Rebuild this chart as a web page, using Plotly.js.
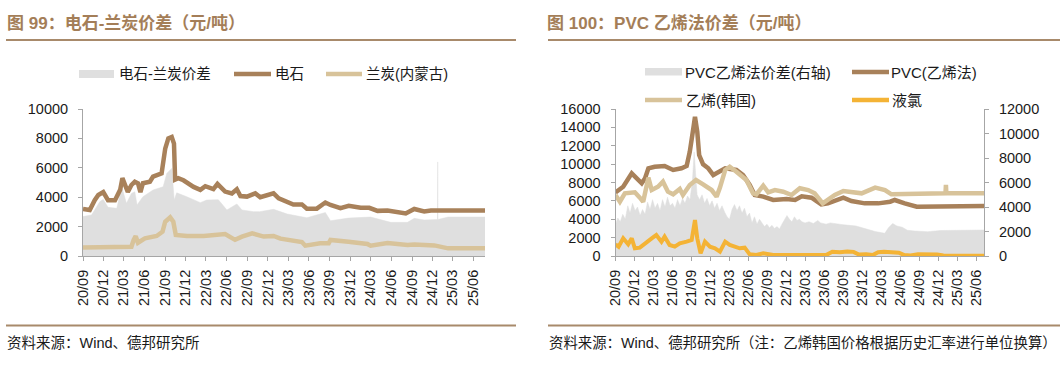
<!DOCTYPE html>
<html><head><meta charset="utf-8">
<script src="https://cdn.plot.ly/plotly-3.0.1.min.js"></script>
<style>html,body{margin:0;padding:0;background:#fff;}#chart{width:1063px;height:367px;}</style>
</head><body><div id="chart"></div>
<script>
// ---------- tick labels ----------
const tickLabels = ['20/09','20/12','21/03','21/06','21/09','21/12','22/03','22/06','22/09','22/12',
  '23/03','23/06','23/09','23/12','24/03','24/06','24/09','24/12','25/03','25/06'];

// ---------- left chart: 电石 / 兰炭 ----------
const carbideDates = ['2020-09-01','2020-10-01','2020-10-23','2020-11-08','2020-11-30','2020-12-21','2021-01-21','2021-02-13','2021-02-23','2021-03-05','2021-03-19','2021-04-04','2021-04-19','2021-05-03','2021-05-14','2021-05-25','2021-06-25','2021-07-09','2021-07-31','2021-08-16','2021-09-01','2021-09-15','2021-09-30','2021-10-10','2021-10-15','2021-10-29','2021-11-21','2022-01-05','2022-02-04','2022-02-26','2022-04-03','2022-04-21','2022-05-25','2022-06-24','2022-07-16','2022-08-01','2022-08-30','2022-10-06','2022-10-28','2022-11-27','2022-12-26','2023-01-18','2023-02-25','2023-03-24','2023-05-01','2023-05-23','2023-07-06','2023-08-13','2023-09-05','2023-10-19','2023-11-25','2024-01-17','2024-02-24','2024-04-01','2024-05-15','2024-06-13','2024-08-04','2024-09-11','2024-10-25','2024-11-24','2025-07-22'];
const carbideVals = [3200,3130,3800,4150,4350,3800,3800,4500,5300,4830,4350,4830,5050,4950,4350,4950,5050,5400,5500,5620,7300,8000,8100,7650,5200,5300,5150,4700,4500,4750,4550,4900,4380,4250,4540,4080,4040,4265,4000,4150,4265,3925,3630,3500,3510,3220,3220,3640,3470,3250,3410,3280,3280,3070,3100,3000,2890,3200,3030,3100,3100];

const semiDates = ['2020-09-01','2020-12-29','2021-04-04','2021-04-14','2021-04-23','2021-05-03','2021-06-03','2021-07-25','2021-08-20','2021-09-01','2021-09-23','2021-10-07','2021-10-18','2021-12-06','2022-02-19','2022-05-25','2022-07-08','2022-08-08','2022-09-22','2022-11-12','2022-12-26','2023-01-26','2023-03-10','2023-05-01','2023-05-16','2023-07-21','2023-08-28','2023-09-05','2023-11-24','2024-02-16','2024-03-01','2024-05-15','2024-08-12','2024-09-11','2024-12-09','2025-02-08','2025-07-22'];
const semiVals = [570,630,630,1090,1350,900,1200,1360,1650,2330,2630,2330,1430,1360,1360,1500,1100,1320,1540,1320,1360,1180,1090,950,700,860,860,1090,975,815,700,880,750,790,720,520,520];

const spreadDates = ['2020-09-01','2020-10-09','2020-11-15','2020-11-30','2020-12-21','2021-01-29','2021-02-20','2021-03-13','2021-04-04','2021-04-19','2021-04-29','2021-05-25','2021-07-09','2021-08-23','2021-09-08','2021-09-30','2021-10-11','2021-10-22','2021-12-06','2022-02-04','2022-03-04','2022-04-25','2022-06-02','2022-07-16','2022-08-08','2022-09-29','2022-10-25','2022-12-26','2023-02-25','2023-05-23','2023-08-13','2023-09-05','2023-11-24','2024-03-01','2024-05-29','2024-08-12','2024-09-11','2024-10-25','2024-12-23','2024-12-24','2024-12-25','2025-02-08','2025-07-22'];
const spreadVals = [2680,2790,3700,3850,3310,3240,4700,3580,4260,4370,3470,4030,4490,4710,5620,5960,3810,4300,4030,3630,3810,3830,3130,3540,3130,3015,3015,3175,2855,2600,2960,2400,2580,2650,2290,2290,2560,2450,2480,6400,2480,2650,2650];

// ---------- right chart: PVC 乙烯法 ----------
const pvcDates = ['2020-09-01','2020-10-08','2020-11-18','2020-12-11','2021-01-05','2021-01-21','2021-02-06','2021-03-08','2021-04-25','2021-06-05','2021-07-15','2021-08-09','2021-08-24','2021-09-10','2021-09-18','2021-09-29','2021-10-08','2021-10-27','2021-11-21','2021-12-15','2022-01-16','2022-02-10','2022-04-05','2022-05-07','2022-06-08','2022-07-02','2022-08-12','2022-09-29','2022-12-02','2023-01-12','2023-02-13','2023-04-01','2023-05-18','2023-06-19','2023-09-01','2023-10-10','2023-12-13','2024-02-16','2024-04-13','2024-05-05','2024-06-22','2024-08-19','2025-07-08'];
const pvcVals = [6930,7540,9000,8455,7910,8455,9545,9720,9795,9360,9545,9795,11350,13900,15160,13530,10990,9980,9545,8815,9180,9545,9360,8815,7730,6640,6460,6095,6200,6100,6500,6350,5625,5730,6350,5985,5730,5730,5910,6095,5730,5370,5450];

const ethDates = ['2020-09-01','2020-09-22','2020-10-16','2020-12-03','2020-12-27','2021-01-12','2021-02-06','2021-02-22','2021-03-24','2021-04-17','2021-05-11','2021-06-05','2021-07-07','2021-07-22','2021-08-24','2021-09-23','2021-10-27','2021-12-07','2021-12-31','2022-01-16','2022-02-10','2022-03-04','2022-04-05','2022-05-23','2022-06-24','2022-07-10','2022-08-12','2022-09-05','2022-10-07','2022-11-16','2022-12-26','2023-02-04','2023-03-16','2023-04-16','2023-05-25','2023-07-22','2023-09-01','2023-11-28','2024-02-01','2024-03-19','2024-04-19','2024-10-13','2024-12-16','2025-01-04','2025-01-06','2025-01-08','2025-07-08'];
const ethVals = [6640,5910,6820,6930,6350,5910,8525,7180,7540,8090,7000,6710,7290,6640,7730,8270,7800,7180,6460,7440,9360,9720,9180,8270,6820,6710,7650,6930,7180,7000,6640,7370,7180,6820,5730,6640,7075,6820,7440,7180,6710,6710,6820,6820,7730,6820,6820];

const clDates = ['2020-09-01','2020-09-16','2020-10-08','2020-11-01','2020-11-18','2020-12-03','2020-12-27','2021-01-29','2021-02-22','2021-03-16','2021-04-10','2021-04-25','2021-05-19','2021-06-13','2021-07-07','2021-08-09','2021-09-02','2021-09-18','2021-09-29','2021-10-15','2021-11-05','2021-11-29','2021-12-23','2022-01-16','2022-02-10','2022-03-04','2022-03-28','2022-04-21','2022-05-15','2022-06-08','2022-07-10','2022-08-12','2022-09-29','2022-12-15','2023-01-15','2023-03-01','2023-05-01','2023-06-10','2023-07-10','2023-08-15','2023-09-20','2023-10-20','2023-11-15','2023-12-20','2024-01-20','2024-02-15','2024-03-15','2024-04-20','2024-05-25','2024-06-20','2024-07-20','2024-08-25','2024-09-25','2024-10-25','2024-11-25','2024-12-25','2025-02-01','2025-04-01','2025-07-08'];
const clVals = [1270,1000,1925,1270,1925,835,907,1560,1925,2285,1560,2105,1200,1015,1380,1560,1740,3920,1925,290,1560,1015,835,470,1560,1200,1015,835,907,180,110,290,110,120,110,100,30,100,470,400,500,450,150,200,100,400,450,400,350,100,50,200,180,250,150,50,30,20,20];

const pvcSpreadDates = ['2020-09-01','2020-09-12','2020-09-24','2020-10-06','2020-10-18','2020-10-30','2020-11-10','2020-11-22','2020-12-04','2020-12-16','2020-12-28','2021-01-09','2021-01-21','2021-02-02','2021-02-14','2021-02-26','2021-03-10','2021-03-22','2021-04-03','2021-04-15','2021-04-27','2021-05-09','2021-05-21','2021-06-02','2021-06-14','2021-06-26','2021-07-08','2021-07-20','2021-08-01','2021-08-13','2021-08-25','2021-09-06','2021-09-14','2021-09-20','2021-09-28','2021-10-10','2021-10-22','2021-11-03','2021-11-15','2021-11-27','2021-12-09','2021-12-21','2022-01-02','2022-01-14','2022-01-26','2022-02-07','2022-02-19','2022-03-03','2022-03-15','2022-03-27','2022-04-08','2022-04-20','2022-05-02','2022-05-14','2022-05-26','2022-06-07','2022-06-19','2022-07-01','2022-07-13','2022-07-25','2022-08-06','2022-08-18','2022-08-30','2022-09-11','2022-09-23','2022-10-05','2022-10-17','2022-10-29','2022-11-10','2022-11-22','2022-12-04','2022-12-16','2022-12-28','2023-01-09','2023-01-21','2023-02-02','2023-02-14','2023-03-01','2023-03-20','2023-04-10','2023-05-01','2023-05-15','2023-06-10','2023-07-01','2023-08-01','2023-09-01','2023-10-01','2023-11-01','2023-12-01','2024-01-01','2024-02-01','2024-03-18','2024-04-05','2024-04-25','2024-05-15','2024-06-10','2024-07-05','2024-08-09','2024-10-10','2024-12-10','2025-02-01','2025-04-01','2025-07-08'];
const pvcSpreadVals = [2600,3100,2800,3400,3000,4100,3500,4300,3700,4000,3300,3800,3400,4400,3800,4600,3900,4300,3700,4600,4000,4800,4100,4300,3900,4600,4100,4700,4300,4900,4600,6200,8500,6800,5000,4600,5000,4300,4700,4100,4500,3900,4300,3700,4100,3600,3200,3000,3800,4200,3700,4100,3500,3900,3200,3500,2700,3200,2600,3000,2700,2400,2600,2300,2500,2250,2400,2200,2600,2900,3300,3000,2800,3200,2900,3000,2800,2700,2800,2650,2900,2700,2600,2700,2600,2550,2500,2450,2300,2150,2000,1850,2300,2650,2450,2350,2100,2040,1985,2080,2100,2120,2120];

// ---------- styling ----------
const W = 1063, H = 367;
const X = v => v / W, Y = v => 1 - v / H;
const BROWN = '#A8815A', TAN = '#D8C39A', GRAY = '#DFDFDF', ORANGE = '#F4B335';
const AXIS = '#A6A6A6', TITLE = '#A47E58', RULE = '#A88A6B', TXT = '#1a1a1a';
const LAT = 'Liberation Sans, Arial, sans-serif';
const MIX = 'Liberation Sans, Noto Sans CJK SC, sans-serif';
const tickVals = tickLabels.map(t => '20' + t.slice(0, 2) + '-' + t.slice(3) + '-01');

const traces = [
  {x: spreadDates, y: spreadVals, type: 'scatter', mode: 'lines', fill: 'tozeroy', fillcolor: GRAY,
   line: {color: GRAY, width: 0.5}, xaxis: 'x', yaxis: 'y', hoverinfo: 'skip'},
  {x: carbideDates, y: carbideVals, type: 'scatter', mode: 'lines', line: {color: BROWN, width: 4.5}, xaxis: 'x', yaxis: 'y'},
  {x: semiDates, y: semiVals, type: 'scatter', mode: 'lines', line: {color: TAN, width: 4.5}, xaxis: 'x', yaxis: 'y'},
  {x: pvcSpreadDates, y: pvcSpreadVals, type: 'scatter', mode: 'lines', fill: 'tozeroy', fillcolor: GRAY,
   line: {color: GRAY, width: 0.5}, xaxis: 'x2', yaxis: 'y2'},
  {x: pvcDates, y: pvcVals, type: 'scatter', mode: 'lines', line: {color: BROWN, width: 4.5}, xaxis: 'x2', yaxis: 'y3'},
  {x: ethDates, y: ethVals, type: 'scatter', mode: 'lines', line: {color: TAN, width: 4.5}, xaxis: 'x2', yaxis: 'y3'},
  {x: clDates, y: clVals, type: 'scatter', mode: 'lines', line: {color: ORANGE, width: 4}, xaxis: 'x2', yaxis: 'y3'}
];

const tickFont = {family: LAT, size: 14.5, color: TXT};
const xBase = {type: 'date', tickvals: tickVals, ticktext: tickLabels, tickangle: -90, showgrid: false, zeroline: false,
  showline: true, linecolor: AXIS, linewidth: 1, ticks: 'outside', ticklen: 4, tickcolor: AXIS, tickfont: tickFont,
  ticklabelstandoff: 3, fixedrange: true};
const yBase = {showgrid: false, zeroline: false, showline: true, linecolor: AXIS, linewidth: 1, ticks: 'outside',
  ticklen: 4, tickcolor: AXIS, tickfont: tickFont, tickformat: 'd', dtick: 2000, tick0: 0, ticklabelstandoff: 7, fixedrange: true};

const yDom = [Y(256), Y(109)];
const layout = {
  width: W, height: H, margin: {l: 0, r: 0, t: 0, b: 0}, paper_bgcolor: '#fff', plot_bgcolor: 'rgba(0,0,0,0)',
  showlegend: false,
  xaxis: Object.assign({}, xBase, {domain: [X(83), X(485)], range: ['2020-09-01', '2025-07-22'], anchor: 'y'}),
  yaxis: Object.assign({}, yBase, {domain: yDom, range: [0, 10000], anchor: 'x'}),
  xaxis2: Object.assign({}, xBase, {domain: [X(615.5), X(984)], range: ['2020-09-01', '2025-07-08'], anchor: 'y2'}),
  yaxis2: Object.assign({}, yBase, {domain: yDom, range: [0, 12000], anchor: 'x2', side: 'right'}),
  yaxis3: Object.assign({}, yBase, {range: [0, 16000], anchor: 'x2', side: 'left', overlaying: 'y2'}),
  shapes: [
    {type: 'line', xref: 'paper', yref: 'paper', x0: X(6), x1: X(516), y0: Y(40), y1: Y(40), line: {color: RULE, width: 2}},
    {type: 'line', xref: 'paper', yref: 'paper', x0: X(548), x1: X(1060), y0: Y(40), y1: Y(40), line: {color: RULE, width: 2}},
    {type: 'line', xref: 'paper', yref: 'paper', x0: X(6), x1: X(516), y0: Y(325.5), y1: Y(325.5), line: {color: RULE, width: 2}},
    {type: 'line', xref: 'paper', yref: 'paper', x0: X(548), x1: X(1060), y0: Y(325.5), y1: Y(325.5), line: {color: RULE, width: 2}},
    // left legend swatches
    {type: 'rect', xref: 'paper', yref: 'paper', x0: X(79), x1: X(114), y0: Y(78), y1: Y(70), fillcolor: GRAY, line: {width: 0}},
    {type: 'line', xref: 'paper', yref: 'paper', x0: X(234), x1: X(271), y0: Y(74), y1: Y(74), line: {color: BROWN, width: 4.5}},
    {type: 'line', xref: 'paper', yref: 'paper', x0: X(326), x1: X(362), y0: Y(74), y1: Y(74), line: {color: TAN, width: 4.5}},
    // right legend swatches
    {type: 'rect', xref: 'paper', yref: 'paper', x0: X(645), x1: X(682), y0: Y(75.5), y1: Y(68), fillcolor: GRAY, line: {width: 0}},
    {type: 'line', xref: 'paper', yref: 'paper', x0: X(852), x1: X(889), y0: Y(72), y1: Y(72), line: {color: BROWN, width: 4.5}},
    {type: 'line', xref: 'paper', yref: 'paper', x0: X(645), x1: X(682), y0: Y(100), y1: Y(100), line: {color: TAN, width: 4.5}},
    {type: 'line', xref: 'paper', yref: 'paper', x0: X(852), x1: X(889), y0: Y(100), y1: Y(100), line: {color: ORANGE, width: 4.5}}
  ],
  annotations: []
};

function note(text, x, y, size, color) {
  layout.annotations.push({text: text, xref: 'paper', yref: 'paper', x: X(x), y: Y(y), xanchor: 'left', yanchor: 'middle',
    showarrow: false, borderpad: 0, font: {family: MIX, size: size, color: color || TXT}});
}
note('<b>图 99：电石-兰炭价差（元/吨）</b>', 6, 23, 17, TITLE);
note('<b>图 100：PVC 乙烯法价差（元/吨）</b>', 546, 23, 17, TITLE);
note('电石-兰炭价差', 118, 74, 14.5);
note('电石', 274, 74, 14.5);
note('兰炭(内蒙古)', 365, 74, 14.5);
note('PVC乙烯法价差(右轴)', 684, 72, 15);
note('PVC(乙烯法)', 890.5, 72, 15);
note('乙烯(韩国)', 685, 100, 15);
note('液氯', 891, 100, 15);
note('资料来源：Wind、德邦研究所', 6, 343, 14.5);
note('资料来源：Wind、德邦研究所（注：乙烯韩国价格根据历史汇率进行单位换算）', 548, 343, 14.4);

Plotly.newPlot('chart', traces, layout, {displayModeBar: false, staticPlot: true});
</script></body></html>
